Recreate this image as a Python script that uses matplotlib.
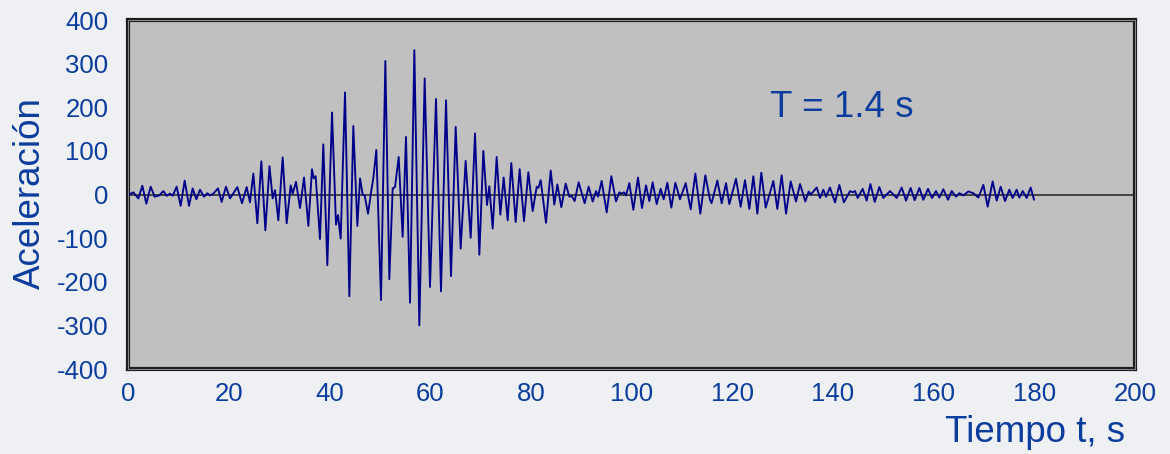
import numpy as np
import matplotlib.pyplot as plt
from matplotlib.patches import Rectangle

plt.rcParams['font.family'] = ['Liberation Sans', 'DejaVu Sans']
plt.rcParams['axes.unicode_minus'] = False

# peaks / troughs (time s, acceleration)
t_s = [0.2, 1.06, 2.05, 2.85, 3.64, 4.5, 5.3, 6.22, 7.02, 7.68, 8.34, 8.87,
       9.67, 10.46, 11.26, 12.12, 12.84, 13.57, 14.3, 15.1, 15.76, 16.29, 16.95,
       17.87, 18.6, 19.46, 20.26, 21.71, 22.64, 23.57, 24.23, 24.89, 25.69,
       26.48, 27.28, 28.1, 28.73, 29.2, 29.86, 30.72, 31.51, 32.31, 32.7,
       33.37, 34.16, 34.96, 35.82, 36.54, 36.88, 37.27, 38.13, 38.79, 39.59,
       40.52, 41.31, 41.71, 42.24, 43.1, 43.96, 44.75, 45.55, 46.08, 46.61,
       47.0, 47.67, 48.39, 48.72, 49.32, 50.25, 51.11, 51.9, 52.57, 53.03,
       53.76, 54.55, 55.21, 56.01, 56.87, 57.86, 58.92,
       59.98, 61.17, 62.16, 63.16, 64.15, 65.08, 66.07, 67.06, 68.06, 68.92,
       69.78, 70.57, 71.3, 71.76, 72.43, 73.22, 73.95, 74.61, 75.41, 76.13,
       76.99, 77.79, 78.65, 79.51, 80.37, 81.17, 81.5, 81.96, 83.02, 83.95,
       84.67, 85.27, 86.06, 86.93, 87.65, 88.1, 88.71, 89.5,
       90.7, 91.49, 92.29, 92.95, 93.35, 94.07, 95.07, 96.0, 96.92, 97.58,
       98.05, 98.51, 98.91, 99.57, 100.36, 101.29, 102.08, 102.88, 103.54,
       104.2, 105.0, 105.79, 106.39, 107.12, 107.91, 108.71, 109.63, 110.76,
       111.75, 112.68, 113.67, 114.66, 115.59, 115.9, 117.05, 117.91, 118.77,
       119.43,
       120.75, 121.68, 122.54, 123.4, 124.2, 124.99, 125.78, 126.65, 128.17,
       128.96, 129.82, 130.69, 131.61, 132.67, 133.47, 134.52, 135.19, 135.58,
       135.98, 136.78, 137.44, 138.1, 138.63, 139.42, 140.42, 141.28, 142.18,
       143.4, 143.93, 144.39, 144.92, 145.91, 146.71, 147.45, 148.3, 149.22,
       150.01,
       151.34, 152.67, 153.66, 154.52, 155.44, 156.24, 157.17, 157.96, 158.89,
       159.68, 160.48, 161.14, 161.93, 162.86, 163.59, 164.45, 165.11, 165.91,
       166.9, 167.89, 168.88, 169.88, 170.74, 171.73, 172.53, 173.32, 174.18,
       175.04, 175.7, 176.5, 177.03, 177.69, 178.49, 179.28, 179.94]

acc = [0, 5, -9, 20, -21, 18, -5, -2, 8, -3, 2, -3,
       18, -26, 32, -26, 14, -11, 11, -5, 3, -2, 2,
       14, -17, 18, -9, 17, -20, 17, -18, 48, -66,
       76, -82, 65, -9, 10, -59, 85, -66, 21, 2,
       29, -31, 39, -72, 58, 37, 42, -102, 115, -162,
       188, -69, -47, -101, 234, -233, 157, -72, 37, 0,
       -2, -44, 14, 37, 102, -242, 306, -194, 14, 17,
       86, -97, 132, -248, 331, -300, 266,
       -212, 219, -222, 216, -187, 155, -124, 77, -99, 140,
       -138, 100, -24, 19, -78, 86, -46, 39, -59, 72,
       -63, 58, -61, 51, -38, 18, 15, 33, -65, 55,
       -23, 23, -29, 25, -5, -3, -15, 28,
       -20, 18, -16, 8, -5, 31, -41, 42, -16, 5,
       2, 5, -2, 26, -35, 39, -31, 21, -15,
       28, -22, 13, -11, 27, -30, 27, -11, 26,
       -34, 48, -44, 44, -12, -20, 32, -20, 26,
       -22,
       36, -28, 33, -33, 42, -44, 50, -30, 31,
       -33, 44, -44, 30, -16, 24, -16, 7, 0,
       5, 16, -8, 11, -5, 16, -18, 22, -18,
       8, 5, 8, -8, 13, -14, 24, -17, 17,
       -8,
       8, -8, 16, -14, 15, -13, 15, -12, 13,
       -8, 8, -7, 12, -12, 8, -5, 3, -2,
       7, 3, -7, 22, -28, 30, -14, 18, -15,
       11, -8, 11, -7, 8, -8, 16, -12]

x_ticks = [0, 20, 40, 60, 80, 100, 120, 140, 160, 180, 200]
y_ticks = [-400, -300, -200, -100, 0, 100, 200, 300, 400]

blue = '#0b3d9e'

fig = plt.figure(figsize=(11.7, 4.54), dpi=100, facecolor='#eff0f3')
ax = fig.add_axes([0.1094, 0.1872, 0.8607, 0.7687])
ax.set_facecolor('#c0c0c0')

ax.axhline(0, color='#3a3a3a', lw=1.3, zorder=2)
ax.plot(t_s, acc, color='#00008b', lw=1.35, zorder=3,
        solid_joinstyle='round', solid_capstyle='round')

ax.set_xlim(0, 200)
ax.set_ylim(-400, 400)
ax.set_xticks(x_ticks)
ax.set_yticks(y_ticks)
ax.tick_params(length=0, labelsize=18.5, labelcolor=blue)
ax.tick_params(axis='x', pad=9)
ax.tick_params(axis='y', pad=14)

for s in ax.spines.values():
    s.set_linewidth(3)
    s.set_color('#1e1e1e')
ax.add_patch(Rectangle((0, 0), 1, 1, transform=ax.transAxes, fill=False,
                       ec='#8c8c8c', lw=0.7, clip_on=False, zorder=5))

ax.text(127.5, 200, 'T = 1.4 s', fontsize=26.5, color=blue, va='center', ha='left')
fig.text(0.962, 0.048, 'Tiempo t, s', fontsize=26.5, color=blue, ha='right', va='center')
fig.text(0.026, 0.575, 'Aceleración', fontsize=26.5, color=blue, rotation=90,
         ha='center', va='center')

fig.savefig('out.png', dpi=100, facecolor=fig.get_facecolor())
